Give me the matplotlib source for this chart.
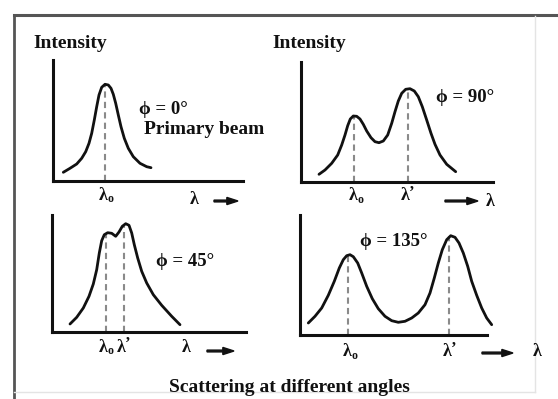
import matplotlib
matplotlib.use("Agg")
import matplotlib.pyplot as plt
from matplotlib.lines import Line2D
from matplotlib.patches import FancyArrow

W, H = 558, 399
SERIF = ['Liberation Serif', 'DejaVu Serif']

# ---- data: curves (wavelength offset, intensity) ----
tl_x = [10.3, 17, 23.7, 28.7, 32.7, 36, 38.7, 41.3, 43.7, 46, 48.7, 52, 55.3, 58, 60.3, 62.7,
        65.3, 68, 71.3, 75.3, 80.3, 87, 93.7, 98]
tl_y = [8.7, 12.7, 17, 22.7, 29.3, 37.7, 47.7, 61, 74.3, 86, 93.7, 96.7, 96, 92.7, 86.7, 77.7,
        66, 54.3, 42.7, 32.7, 24.3, 17.7, 14.3, 13.3]
tl_peaks = [52]
tl_peak_heights = [96]

tr_x = [18, 24, 30.7, 36.7, 40.7, 44, 46.7, 49.3, 52.3, 55.7, 59, 62.3, 65.7, 70, 74, 78, 82.3,
        86.7, 90.7, 94, 97.3, 100.7, 104.7, 109, 113.3, 117.3, 121.3, 125.7, 130, 134, 139,
        145.7, 154.7]
tr_y = [7.7, 12, 18.7, 27, 37, 47, 56.3, 63, 66, 65.7, 63, 57.7, 51, 44.3, 40.3, 39.3, 41, 47,
        58.7, 70.3, 81, 88.7, 92.7, 93.3, 91, 85.3, 75.3, 62, 48.7, 37.7, 27, 17.7, 10.3]
tr_peaks = [53, 107]
tr_peak_heights = [65, 92]

bl_x = [18, 24.7, 31.3, 37, 41.3, 44.7, 47.3, 49.7, 52.3, 55.7, 59.7, 63.7, 67, 70.3, 73.7, 77,
        79.7, 82.3, 85.7, 89.7, 94.7, 101.3, 109.7, 119.7, 128]
bl_y = [8, 14.7, 24, 35.7, 48, 62.3, 79, 91.3, 97.3, 99.3, 98.7, 95.7, 100, 105.7, 108.3, 106.7,
        99, 87.3, 74, 60.7, 49, 37.3, 26.7, 15.7, 7.3]
bl_peaks = [54, 72]
bl_peak_heights = [98, 106]

br_x = [8.3, 15, 21.7, 28.3, 34.3, 39.3, 43.3, 46.7, 50, 53.3, 57.7, 61.7, 66.7, 72.3, 78.3, 85,
        91.7, 98.3, 105, 111.7, 118.3, 125, 130, 134.3, 138.3, 142.3, 146.7, 150.7, 155, 159,
        163.3, 167.7, 171.7, 176.7, 181.7, 186.7, 191.7]
br_y = [12, 18.7, 27, 39.7, 53.7, 67, 75.3, 79.3, 80.3, 78.3, 72, 62, 48.7, 36.3, 26.3, 18.7,
        14.3, 12.7, 13.7, 17, 22, 30.3, 42, 57, 72, 85.3, 95.3, 99.3, 97.7, 92, 82, 68.7, 53.7,
        39.7, 27, 17, 10.3]
br_peaks = [48, 149]
br_peak_heights = [79, 99]

phi_labels = ['ϕ = 0°', 'ϕ = 90°', 'ϕ = 45°', 'ϕ = 135°']

fig = plt.figure(figsize=(W / 100, H / 100), dpi=100)
fig.patch.set_facecolor('white')


def fx(px):
    return px / W


def fy(py):
    return 1 - py / H


def make_axes(left, right, bottom, top, xmax, ymax):
    ax = fig.add_axes([fx(left), fy(bottom), (right - left) / W, (bottom - top) / H])
    ax.set_xlim(0, xmax)
    ax.set_ylim(0, ymax)
    for s in ['top', 'right']:
        ax.spines[s].set_visible(False)
    for s in ['left', 'bottom']:
        ax.spines[s].set_linewidth(2.2)
        ax.spines[s].set_color('#111111')
    ax.set_xticks([])
    ax.set_yticks([])
    ax.patch.set_alpha(0)
    return ax


panels = [
    (make_axes(53, 243, 181, 60, 190, 121), tl_x, tl_y, tl_peaks, tl_peak_heights),
    (make_axes(301, 493, 182, 62, 192, 120), tr_x, tr_y, tr_peaks, tr_peak_heights),
    (make_axes(52, 246, 332, 215, 194, 117), bl_x, bl_y, bl_peaks, bl_peak_heights),
    (make_axes(300, 487, 335, 215, 187, 120), br_x, br_y, br_peaks, br_peak_heights),
]

for ax, xs, ys, pk, ph in panels:
    ax.vlines(pk, 0, ph, colors='#8a8a8a', linestyles=(0, (3, 2)), linewidth=1.5, zorder=1)
    ax.plot(xs, ys, color='#111111', lw=2.0, solid_capstyle='round', solid_joinstyle='round',
            clip_on=False, zorder=2)


def t(px, py, s, size=14, ha='left', va='center'):
    fig.text(fx(px), fy(py), s, fontsize=size, fontweight='bold', family=SERIF,
             ha=ha, va=va, color='#111111')


def lam(px, py, sub, size=13):
    t(px, py, 'λ', size=size, ha='center')
    if sub == 'o':
        t(px + 4, py + 4, 'o', size=8.5)
    else:
        t(px + 4, py - 3, '’', size=12)


def arrow(x0, x1, py):
    fig.add_artist(FancyArrow(fx(x0), fy(py), fx(x1 - x0), 0, width=0.0045,
                              head_width=0.018, head_length=0.02, length_includes_head=True,
                              color='#111111', transform=fig.transFigure))


# Top-left
t(33, 43, 'Intensity')
t(139, 110, phi_labels[0], 13.5)
t(144, 130, 'Primary beam')
lam(103, 195, 'o')
t(194, 200, 'λ', 13, ha='center')
arrow(214, 238, 201)

# Top-right
t(272, 43, 'Intensity')
t(436, 97, phi_labels[1], 13.5)
lam(353, 196, 'o')
lam(405, 196, "'")
arrow(445, 478, 201)
t(490, 201, 'λ', 13, ha='center')

# Bottom-left
t(156, 262, phi_labels[2], 13.5)
lam(103, 347, 'o')
lam(121, 347, "'")
t(186, 348, 'λ', 13, ha='center')
arrow(207, 234, 351)

# Bottom-right
t(360, 242, phi_labels[3], 13.5)
lam(347, 352, 'o')
lam(447, 352, "'")
arrow(482, 513, 353)
t(537, 352, 'λ', 13, ha='center')

# Caption
t(289, 387, 'Scattering at different angles', 14, ha='center')

# Outer frame
fig.add_artist(Line2D([fx(14), fx(558)], [fy(15), fy(15)], color='#555555', lw=2.2))
fig.add_artist(Line2D([fx(14), fx(14)], [fy(15), fy(399)], color='#555555', lw=2.0))
fig.add_artist(Line2D([fx(535), fx(535)], [fy(16), fy(392)], color='#e4e4e4', lw=1.0))
fig.add_artist(Line2D([fx(14), fx(535)], [fy(392), fy(392)], color='#e4e4e4', lw=1.0))

fig.savefig('out.png', dpi=100, facecolor='white')
